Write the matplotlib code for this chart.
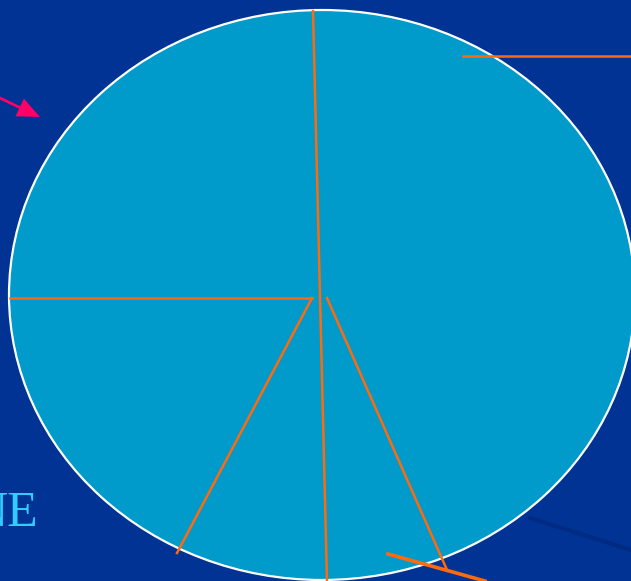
import matplotlib.pyplot as plt
import matplotlib.patches as patches

# Ellipse (pixel frame, y down)
ellipse_center = (322, 295)
ellipse_size = (626, 570)

# Orange segments inside / around the ellipse: (x0, y0, x1, y1)
seg_x0 = [313, 10, 312, 327, 463]
seg_y0 = [11, 298, 298, 298, 56]
seg_x1 = [327, 312, 177, 447, 631]
seg_y1 = [581, 298, 553, 570, 56]

# Thicker orange pointer at the bottom
pointer_x = [388, 485]
pointer_y = [554, 581]

# Faint shadow line at bottom right
shadow_x = [530, 631]
shadow_y = [518, 550]

# Pink arrow at top left
arrow_start = (0, 98)
arrow_end = (40, 117)

label_text = 'NE'

fig = plt.figure(figsize=(6.31, 5.81), dpi=100)
fig.patch.set_facecolor('#003393')
ax = fig.add_axes([0, 0, 1, 1])
ax.set_facecolor('#003393')
ax.set_xlim(0, 631)
ax.set_ylim(581, 0)
ax.axis('off')

ax.plot(shadow_x, shadow_y, color='#00297f', lw=3, alpha=0.8, solid_capstyle='round')

ell = patches.Ellipse(ellipse_center, ellipse_size[0], ellipse_size[1],
                      facecolor='#009ACB', edgecolor='white', lw=1.6)
ax.add_patch(ell)

for x0, y0, x1, y1 in zip(seg_x0, seg_y0, seg_x1, seg_y1):
    ax.plot([x0, x1], [y0, y1], color='#FF6A0D', lw=1.8)

ax.plot(pointer_x, pointer_y, color='#FF6A0D', lw=2.6)

# draw the arrow as a shaft plus a filled head in data coordinates
ax.plot([arrow_start[0], 28], [arrow_start[1], 111.5], color='#FF0066', lw=2)
ax.annotate('', xy=arrow_end, xytext=(22, 108.5),
            arrowprops=dict(arrowstyle='-|>,head_length=0.8,head_width=0.35',
                            color='#FF0066', lw=0.1, mutation_scale=20,
                            shrinkA=0, shrinkB=0))

ax.text(38, 514, label_text, color='#33CCFF', fontsize=36,
        family='Liberation Serif', ha='right', va='center')

fig.savefig('out.png', dpi=100, facecolor=fig.get_facecolor())
